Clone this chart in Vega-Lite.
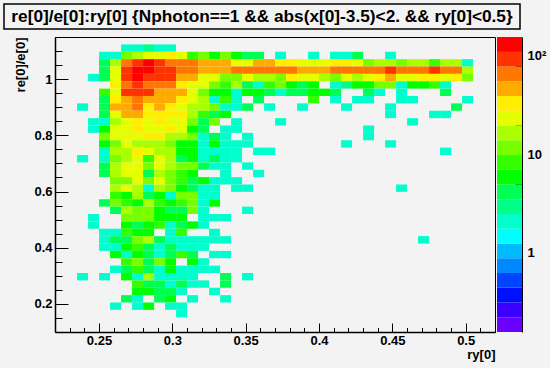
{"$schema":"https://vega.github.io/schema/vega-lite/v6.json","background":"#f3f3f3","padding":{"left":3,"top":3,"right":10,"bottom":12},"config":{"font":"Liberation Sans","view":{"stroke":"#000","strokeWidth":1}},"bounds":"flush","spacing":8,"vconcat":[
{"width":516,"height":25,"view":{"stroke":"#000","fill":"#f3f3f3","strokeWidth":1.5},"data":{"values":[{"t":"re[0]/e[0]:ry[0] {Nphoton==1 && abs(x[0]-3.5)<2. && ry[0]<0.5}"}]},"mark":{"type":"text","font":"Liberation Sans","fontWeight":"bold","fontSize":17.25,"color":"#000"},"encoding":{"text":{"field":"t","type":"nominal"}}},
{"bounds":"flush","spacing":2,"hconcat":[
{"width":48.5,"height":295,"view":{"stroke":null},"data":{"values":[]},"mark":"text","encoding":{}},
{"width":440,"height":295,"data":{"values":[
{"ry":0.2688,"re":1.1106,"n":2.1},{"ry":0.2763,"re":1.1106,"n":2.1},{"ry":0.2838,"re":1.1106,"n":2.9},{"ry":0.2913,"re":1.1106,"n":2.1},{"ry":0.2988,"re":1.1106,"n":2.1},
{"ry":0.2538,"re":1.0844,"n":2.1},{"ry":0.2613,"re":1.0844,"n":2.1},{"ry":0.2688,"re":1.0844,"n":12},{"ry":0.2763,"re":1.0844,"n":16.5},{"ry":0.2838,"re":1.0844,"n":23},{"ry":0.2913,"re":1.0844,"n":23},{"ry":0.2988,"re":1.0844,"n":33},{"ry":0.3063,"re":1.0844,"n":23},{"ry":0.3138,"re":1.0844,"n":8.3},{"ry":0.3213,"re":1.0844,"n":12},{"ry":0.3288,"re":1.0844,"n":5.9},{"ry":0.3363,"re":1.0844,"n":12},{"ry":0.3438,"re":1.0844,"n":5.9},{"ry":0.3513,"re":1.0844,"n":4.2},{"ry":0.3588,"re":1.0844,"n":4.2},{"ry":0.3738,"re":1.0844,"n":2.1},{"ry":0.3963,"re":1.0844,"n":2.1},{"ry":0.4113,"re":1.0844,"n":2.1},{"ry":0.4188,"re":1.0844,"n":2.1},{"ry":0.4263,"re":1.0844,"n":4.2},{"ry":0.4488,"re":1.0844,"n":2.1},
{"ry":0.2538,"re":1.0581,"n":4.2},{"ry":0.2613,"re":1.0581,"n":16.5},{"ry":0.2688,"re":1.0581,"n":66},{"ry":0.2763,"re":1.0581,"n":93},{"ry":0.2838,"re":1.0581,"n":131},{"ry":0.2913,"re":1.0581,"n":93},{"ry":0.2988,"re":1.0581,"n":66},{"ry":0.3063,"re":1.0581,"n":66},{"ry":0.3138,"re":1.0581,"n":66},{"ry":0.3213,"re":1.0581,"n":47},{"ry":0.3288,"re":1.0581,"n":47},{"ry":0.3363,"re":1.0581,"n":47},{"ry":0.3438,"re":1.0581,"n":23},{"ry":0.3513,"re":1.0581,"n":23},{"ry":0.3588,"re":1.0581,"n":47},{"ry":0.3663,"re":1.0581,"n":47},{"ry":0.3738,"re":1.0581,"n":33},{"ry":0.3813,"re":1.0581,"n":33},{"ry":0.3888,"re":1.0581,"n":23},{"ry":0.3963,"re":1.0581,"n":23},{"ry":0.4038,"re":1.0581,"n":23},{"ry":0.4113,"re":1.0581,"n":33},{"ry":0.4188,"re":1.0581,"n":33},{"ry":0.4263,"re":1.0581,"n":23},{"ry":0.4338,"re":1.0581,"n":12},{"ry":0.4413,"re":1.0581,"n":16.5},{"ry":0.4488,"re":1.0581,"n":16.5},{"ry":0.4563,"re":1.0581,"n":12},{"ry":0.4638,"re":1.0581,"n":16.5},{"ry":0.4713,"re":1.0581,"n":16.5},{"ry":0.4788,"re":1.0581,"n":8.3},{"ry":0.4863,"re":1.0581,"n":16.5},{"ry":0.4938,"re":1.0581,"n":16.5},{"ry":0.5013,"re":1.0581,"n":2.1},
{"ry":0.2538,"re":1.0319,"n":4.2},{"ry":0.2613,"re":1.0319,"n":23},{"ry":0.2688,"re":1.0319,"n":93},{"ry":0.2763,"re":1.0319,"n":131},{"ry":0.2838,"re":1.0319,"n":131},{"ry":0.2913,"re":1.0319,"n":93},{"ry":0.2988,"re":1.0319,"n":93},{"ry":0.3063,"re":1.0319,"n":66},{"ry":0.3138,"re":1.0319,"n":66},{"ry":0.3213,"re":1.0319,"n":47},{"ry":0.3288,"re":1.0319,"n":47},{"ry":0.3363,"re":1.0319,"n":47},{"ry":0.3438,"re":1.0319,"n":66},{"ry":0.3513,"re":1.0319,"n":66},{"ry":0.3588,"re":1.0319,"n":66},{"ry":0.3663,"re":1.0319,"n":66},{"ry":0.3738,"re":1.0319,"n":66},{"ry":0.3813,"re":1.0319,"n":66},{"ry":0.3888,"re":1.0319,"n":47},{"ry":0.3963,"re":1.0319,"n":47},{"ry":0.4038,"re":1.0319,"n":47},{"ry":0.4113,"re":1.0319,"n":66},{"ry":0.4188,"re":1.0319,"n":66},{"ry":0.4263,"re":1.0319,"n":66},{"ry":0.4338,"re":1.0319,"n":66},{"ry":0.4413,"re":1.0319,"n":66},{"ry":0.4488,"re":1.0319,"n":93},{"ry":0.4563,"re":1.0319,"n":66},{"ry":0.4638,"re":1.0319,"n":66},{"ry":0.4713,"re":1.0319,"n":66},{"ry":0.4788,"re":1.0319,"n":93},{"ry":0.4863,"re":1.0319,"n":66},{"ry":0.4938,"re":1.0319,"n":66},{"ry":0.5013,"re":1.0319,"n":16.5},
{"ry":0.2463,"re":1.0056,"n":2.1},{"ry":0.2538,"re":1.0056,"n":4.2},{"ry":0.2613,"re":1.0056,"n":23},{"ry":0.2688,"re":1.0056,"n":93},{"ry":0.2763,"re":1.0056,"n":131},{"ry":0.2838,"re":1.0056,"n":93},{"ry":0.2913,"re":1.0056,"n":93},{"ry":0.2988,"re":1.0056,"n":93},{"ry":0.3063,"re":1.0056,"n":47},{"ry":0.3138,"re":1.0056,"n":47},{"ry":0.3213,"re":1.0056,"n":23},{"ry":0.3288,"re":1.0056,"n":23},{"ry":0.3363,"re":1.0056,"n":12},{"ry":0.3438,"re":1.0056,"n":12},{"ry":0.3513,"re":1.0056,"n":23},{"ry":0.3588,"re":1.0056,"n":16.5},{"ry":0.3663,"re":1.0056,"n":16.5},{"ry":0.3738,"re":1.0056,"n":12},{"ry":0.3813,"re":1.0056,"n":33},{"ry":0.3888,"re":1.0056,"n":23},{"ry":0.3963,"re":1.0056,"n":23},{"ry":0.4038,"re":1.0056,"n":16.5},{"ry":0.4113,"re":1.0056,"n":12},{"ry":0.4188,"re":1.0056,"n":23},{"ry":0.4263,"re":1.0056,"n":16.5},{"ry":0.4338,"re":1.0056,"n":23},{"ry":0.4413,"re":1.0056,"n":33},{"ry":0.4488,"re":1.0056,"n":47},{"ry":0.4563,"re":1.0056,"n":23},{"ry":0.4638,"re":1.0056,"n":23},{"ry":0.4713,"re":1.0056,"n":33},{"ry":0.4788,"re":1.0056,"n":33},{"ry":0.4863,"re":1.0056,"n":23},{"ry":0.4938,"re":1.0056,"n":33},{"ry":0.5013,"re":1.0056,"n":12},
{"ry":0.2613,"re":0.9794,"n":33},{"ry":0.2688,"re":0.9794,"n":66},{"ry":0.2763,"re":0.9794,"n":93},{"ry":0.2838,"re":0.9794,"n":66},{"ry":0.2913,"re":0.9794,"n":66},{"ry":0.2988,"re":0.9794,"n":66},{"ry":0.3063,"re":0.9794,"n":33},{"ry":0.3138,"re":0.9794,"n":23},{"ry":0.3213,"re":0.9794,"n":23},{"ry":0.3288,"re":0.9794,"n":12},{"ry":0.3363,"re":0.9794,"n":8.3},{"ry":0.3438,"re":0.9794,"n":16.5},{"ry":0.3513,"re":0.9794,"n":4.2},{"ry":0.3588,"re":0.9794,"n":2.1},{"ry":0.3663,"re":0.9794,"n":8.3},{"ry":0.3738,"re":0.9794,"n":12},{"ry":0.3813,"re":0.9794,"n":5.9},{"ry":0.3888,"re":0.9794,"n":4.2},{"ry":0.3963,"re":0.9794,"n":5.9},{"ry":0.4113,"re":0.9794,"n":2.1},{"ry":0.4188,"re":0.9794,"n":2.9},{"ry":0.4263,"re":0.9794,"n":5.9},{"ry":0.4338,"re":0.9794,"n":5.9},{"ry":0.4413,"re":0.9794,"n":12},{"ry":0.4488,"re":0.9794,"n":12},{"ry":0.4563,"re":0.9794,"n":2.1},{"ry":0.4638,"re":0.9794,"n":5.9},{"ry":0.4713,"re":0.9794,"n":5.9},{"ry":0.4788,"re":0.9794,"n":8.3},{"ry":0.4863,"re":0.9794,"n":2.1},
{"ry":0.2538,"re":0.9531,"n":8.3},{"ry":0.2613,"re":0.9531,"n":23},{"ry":0.2688,"re":0.9531,"n":93},{"ry":0.2763,"re":0.9531,"n":93},{"ry":0.2838,"re":0.9531,"n":93},{"ry":0.2913,"re":0.9531,"n":47},{"ry":0.2988,"re":0.9531,"n":47},{"ry":0.3063,"re":0.9531,"n":47},{"ry":0.3138,"re":0.9531,"n":23},{"ry":0.3213,"re":0.9531,"n":12},{"ry":0.3288,"re":0.9531,"n":5.9},{"ry":0.3363,"re":0.9531,"n":5.9},{"ry":0.3438,"re":0.9531,"n":2.1},{"ry":0.3513,"re":0.9531,"n":5.9},{"ry":0.3588,"re":0.9531,"n":5.9},{"ry":0.3663,"re":0.9531,"n":4.2},{"ry":0.3738,"re":0.9531,"n":2.1},{"ry":0.3813,"re":0.9531,"n":4.2},{"ry":0.3888,"re":0.9531,"n":4.2},{"ry":0.3963,"re":0.9531,"n":5.9},{"ry":0.4038,"re":0.9531,"n":5.9},{"ry":0.4113,"re":0.9531,"n":4.2},{"ry":0.4338,"re":0.9531,"n":4.2},{"ry":0.4413,"re":0.9531,"n":2.1},{"ry":0.4563,"re":0.9531,"n":2.1},{"ry":0.4863,"re":0.9531,"n":4.2},
{"ry":0.2538,"re":0.9269,"n":4.2},{"ry":0.2613,"re":0.9269,"n":33},{"ry":0.2688,"re":0.9269,"n":47},{"ry":0.2763,"re":0.9269,"n":66},{"ry":0.2838,"re":0.9269,"n":47},{"ry":0.2913,"re":0.9269,"n":47},{"ry":0.2988,"re":0.9269,"n":47},{"ry":0.3063,"re":0.9269,"n":33},{"ry":0.3138,"re":0.9269,"n":23},{"ry":0.3213,"re":0.9269,"n":16.5},{"ry":0.3288,"re":0.9269,"n":2.1},{"ry":0.3363,"re":0.9269,"n":8.3},{"ry":0.3438,"re":0.9269,"n":2.1},{"ry":0.3588,"re":0.9269,"n":4.2},{"ry":0.3963,"re":0.9269,"n":8.3},{"ry":0.4113,"re":0.9269,"n":2.1},{"ry":0.4263,"re":0.9269,"n":2.1},{"ry":0.4338,"re":0.9269,"n":2.1},{"ry":0.4563,"re":0.9269,"n":2.1},{"ry":0.4638,"re":0.9269,"n":2.1},{"ry":0.5013,"re":0.9269,"n":2.1},
{"ry":0.2388,"re":0.9006,"n":2.1},{"ry":0.2538,"re":0.9006,"n":4.2},{"ry":0.2613,"re":0.9006,"n":47},{"ry":0.2688,"re":0.9006,"n":47},{"ry":0.2763,"re":0.9006,"n":66},{"ry":0.2838,"re":0.9006,"n":33},{"ry":0.2913,"re":0.9006,"n":47},{"ry":0.2988,"re":0.9006,"n":33},{"ry":0.3063,"re":0.9006,"n":23},{"ry":0.3138,"re":0.9006,"n":16.5},{"ry":0.3213,"re":0.9006,"n":16.5},{"ry":0.3288,"re":0.9006,"n":12},{"ry":0.3363,"re":0.9006,"n":2.1},{"ry":0.3438,"re":0.9006,"n":2.1},{"ry":0.3513,"re":0.9006,"n":4.2},{"ry":0.3663,"re":0.9006,"n":2.1},{"ry":0.3888,"re":0.9006,"n":2.1},{"ry":0.4188,"re":0.9006,"n":2.1},{"ry":0.4488,"re":0.9006,"n":2.1},{"ry":0.4938,"re":0.9006,"n":4.2},
{"ry":0.2538,"re":0.8744,"n":4.2},{"ry":0.2613,"re":0.8744,"n":23},{"ry":0.2688,"re":0.8744,"n":47},{"ry":0.2763,"re":0.8744,"n":47},{"ry":0.2838,"re":0.8744,"n":33},{"ry":0.2913,"re":0.8744,"n":33},{"ry":0.2988,"re":0.8744,"n":33},{"ry":0.3063,"re":0.8744,"n":33},{"ry":0.3138,"re":0.8744,"n":16.5},{"ry":0.3213,"re":0.8744,"n":8.3},{"ry":0.3288,"re":0.8744,"n":4.2},{"ry":0.3363,"re":0.8744,"n":5.9},{"ry":0.4488,"re":0.8744,"n":2.1},{"ry":0.4788,"re":0.8744,"n":2.1},{"ry":0.4863,"re":0.8744,"n":2.1},
{"ry":0.2463,"re":0.8481,"n":2.1},{"ry":0.2538,"re":0.8481,"n":2.1},{"ry":0.2613,"re":0.8481,"n":16.5},{"ry":0.2688,"re":0.8481,"n":23},{"ry":0.2763,"re":0.8481,"n":33},{"ry":0.2838,"re":0.8481,"n":23},{"ry":0.2913,"re":0.8481,"n":33},{"ry":0.2988,"re":0.8481,"n":23},{"ry":0.3063,"re":0.8481,"n":23},{"ry":0.3138,"re":0.8481,"n":12},{"ry":0.3213,"re":0.8481,"n":4.2},{"ry":0.3288,"re":0.8481,"n":12},{"ry":0.3438,"re":0.8481,"n":2.1},{"ry":0.3738,"re":0.8481,"n":2.1},{"ry":0.4638,"re":0.8481,"n":2.1},
{"ry":0.2463,"re":0.8219,"n":2.1},{"ry":0.2538,"re":0.8219,"n":5.9},{"ry":0.2613,"re":0.8219,"n":23},{"ry":0.2688,"re":0.8219,"n":23},{"ry":0.2763,"re":0.8219,"n":33},{"ry":0.2838,"re":0.8219,"n":23},{"ry":0.2913,"re":0.8219,"n":23},{"ry":0.2988,"re":0.8219,"n":33},{"ry":0.3063,"re":0.8219,"n":23},{"ry":0.3138,"re":0.8219,"n":5.9},{"ry":0.3213,"re":0.8219,"n":4.2},{"ry":0.3363,"re":0.8219,"n":2.1},{"ry":0.3438,"re":0.8219,"n":2.1},{"ry":0.4338,"re":0.8219,"n":2.1},
{"ry":0.2538,"re":0.7956,"n":12},{"ry":0.2613,"re":0.7956,"n":23},{"ry":0.2688,"re":0.7956,"n":23},{"ry":0.2763,"re":0.7956,"n":23},{"ry":0.2838,"re":0.7956,"n":33},{"ry":0.2913,"re":0.7956,"n":33},{"ry":0.2988,"re":0.7956,"n":16.5},{"ry":0.3063,"re":0.7956,"n":16.5},{"ry":0.3138,"re":0.7956,"n":12},{"ry":0.3213,"re":0.7956,"n":2.1},{"ry":0.3288,"re":0.7956,"n":4.2},{"ry":0.3363,"re":0.7956,"n":2.1},{"ry":0.3513,"re":0.7956,"n":2.1},{"ry":0.4338,"re":0.7956,"n":2.1},
{"ry":0.2538,"re":0.7694,"n":5.9},{"ry":0.2613,"re":0.7694,"n":12},{"ry":0.2688,"re":0.7694,"n":23},{"ry":0.2763,"re":0.7694,"n":16.5},{"ry":0.2838,"re":0.7694,"n":16.5},{"ry":0.2913,"re":0.7694,"n":16.5},{"ry":0.2988,"re":0.7694,"n":12},{"ry":0.3063,"re":0.7694,"n":5.9},{"ry":0.3138,"re":0.7694,"n":5.9},{"ry":0.3213,"re":0.7694,"n":2.1},{"ry":0.3288,"re":0.7694,"n":5.9},{"ry":0.3363,"re":0.7694,"n":2.1},{"ry":0.3438,"re":0.7694,"n":2.1},{"ry":0.3513,"re":0.7694,"n":2.1},{"ry":0.4188,"re":0.7694,"n":2.1},{"ry":0.4488,"re":0.7694,"n":2.1},
{"ry":0.2538,"re":0.7431,"n":2.1},{"ry":0.2613,"re":0.7431,"n":16.5},{"ry":0.2688,"re":0.7431,"n":16.5},{"ry":0.2763,"re":0.7431,"n":33},{"ry":0.2838,"re":0.7431,"n":23},{"ry":0.2913,"re":0.7431,"n":16.5},{"ry":0.2988,"re":0.7431,"n":16.5},{"ry":0.3063,"re":0.7431,"n":5.9},{"ry":0.3138,"re":0.7431,"n":5.9},{"ry":0.3213,"re":0.7431,"n":2.1},{"ry":0.3288,"re":0.7431,"n":2.1},{"ry":0.3363,"re":0.7431,"n":2.1},{"ry":0.3438,"re":0.7431,"n":2.1},{"ry":0.3588,"re":0.7431,"n":2.1},{"ry":0.3663,"re":0.7431,"n":2.1},{"ry":0.4863,"re":0.7431,"n":2.1},
{"ry":0.2388,"re":0.7169,"n":2.1},{"ry":0.2538,"re":0.7169,"n":2.1},{"ry":0.2613,"re":0.7169,"n":12},{"ry":0.2688,"re":0.7169,"n":16.5},{"ry":0.2763,"re":0.7169,"n":23},{"ry":0.2838,"re":0.7169,"n":8.3},{"ry":0.2913,"re":0.7169,"n":23},{"ry":0.2988,"re":0.7169,"n":16.5},{"ry":0.3063,"re":0.7169,"n":4.2},{"ry":0.3138,"re":0.7169,"n":5.9},{"ry":0.3213,"re":0.7169,"n":2.1},{"ry":0.3288,"re":0.7169,"n":4.2},{"ry":0.3363,"re":0.7169,"n":2.1},{"ry":0.3438,"re":0.7169,"n":2.1},
{"ry":0.2538,"re":0.6906,"n":4.2},{"ry":0.2613,"re":0.6906,"n":16.5},{"ry":0.2688,"re":0.6906,"n":23},{"ry":0.2763,"re":0.6906,"n":23},{"ry":0.2838,"re":0.6906,"n":12},{"ry":0.2913,"re":0.6906,"n":23},{"ry":0.2988,"re":0.6906,"n":16.5},{"ry":0.3063,"re":0.6906,"n":12},{"ry":0.3138,"re":0.6906,"n":12},{"ry":0.3213,"re":0.6906,"n":4.2},{"ry":0.3288,"re":0.6906,"n":2.1},{"ry":0.3363,"re":0.6906,"n":2.1},{"ry":0.3513,"re":0.6906,"n":2.1},
{"ry":0.2538,"re":0.6644,"n":4.2},{"ry":0.2613,"re":0.6644,"n":16.5},{"ry":0.2688,"re":0.6644,"n":23},{"ry":0.2763,"re":0.6644,"n":23},{"ry":0.2838,"re":0.6644,"n":4.2},{"ry":0.2913,"re":0.6644,"n":16.5},{"ry":0.2988,"re":0.6644,"n":12},{"ry":0.3063,"re":0.6644,"n":8.3},{"ry":0.3138,"re":0.6644,"n":5.9},{"ry":0.3363,"re":0.6644,"n":2.1},{"ry":0.3588,"re":0.6644,"n":2.1},
{"ry":0.2613,"re":0.6381,"n":12},{"ry":0.2688,"re":0.6381,"n":12},{"ry":0.2763,"re":0.6381,"n":23},{"ry":0.2838,"re":0.6381,"n":12},{"ry":0.2913,"re":0.6381,"n":23},{"ry":0.2988,"re":0.6381,"n":12},{"ry":0.3063,"re":0.6381,"n":8.3},{"ry":0.3138,"re":0.6381,"n":4.2},{"ry":0.3213,"re":0.6381,"n":5.9},{"ry":0.3288,"re":0.6381,"n":2.1},{"ry":0.3363,"re":0.6381,"n":2.1},{"ry":0.3438,"re":0.6381,"n":2.1},
{"ry":0.2613,"re":0.6119,"n":16.5},{"ry":0.2688,"re":0.6119,"n":23},{"ry":0.2763,"re":0.6119,"n":16.5},{"ry":0.2838,"re":0.6119,"n":2.1},{"ry":0.2913,"re":0.6119,"n":16.5},{"ry":0.2988,"re":0.6119,"n":12},{"ry":0.3063,"re":0.6119,"n":5.9},{"ry":0.3138,"re":0.6119,"n":4.2},{"ry":0.3213,"re":0.6119,"n":2.1},{"ry":0.3288,"re":0.6119,"n":2.1},{"ry":0.3438,"re":0.6119,"n":2.1},{"ry":0.3513,"re":0.6119,"n":2.1},{"ry":0.4563,"re":0.6119,"n":2.1},
{"ry":0.2613,"re":0.5856,"n":8.3},{"ry":0.2688,"re":0.5856,"n":5.9},{"ry":0.2763,"re":0.5856,"n":16.5},{"ry":0.2838,"re":0.5856,"n":4.2},{"ry":0.2913,"re":0.5856,"n":5.9},{"ry":0.2988,"re":0.5856,"n":2.1},{"ry":0.3063,"re":0.5856,"n":12},{"ry":0.3138,"re":0.5856,"n":12},{"ry":0.3213,"re":0.5856,"n":2.1},{"ry":0.3288,"re":0.5856,"n":2.1},
{"ry":0.2538,"re":0.5594,"n":4.2},{"ry":0.2613,"re":0.5594,"n":12},{"ry":0.2688,"re":0.5594,"n":8.3},{"ry":0.2763,"re":0.5594,"n":5.9},{"ry":0.2838,"re":0.5594,"n":16.5},{"ry":0.2913,"re":0.5594,"n":8.3},{"ry":0.2988,"re":0.5594,"n":5.9},{"ry":0.3063,"re":0.5594,"n":8.3},{"ry":0.3138,"re":0.5594,"n":12},{"ry":0.3213,"re":0.5594,"n":2.1},{"ry":0.3288,"re":0.5594,"n":5.9},
{"ry":0.2613,"re":0.5331,"n":4.2},{"ry":0.2688,"re":0.5331,"n":16.5},{"ry":0.2763,"re":0.5331,"n":12},{"ry":0.2838,"re":0.5331,"n":12},{"ry":0.2913,"re":0.5331,"n":5.9},{"ry":0.2988,"re":0.5331,"n":4.2},{"ry":0.3063,"re":0.5331,"n":4.2},{"ry":0.3138,"re":0.5331,"n":12},{"ry":0.3213,"re":0.5331,"n":2.1},{"ry":0.3513,"re":0.5331,"n":2.1},
{"ry":0.2463,"re":0.5069,"n":2.1},{"ry":0.2688,"re":0.5069,"n":12},{"ry":0.2763,"re":0.5069,"n":12},{"ry":0.2838,"re":0.5069,"n":12},{"ry":0.2913,"re":0.5069,"n":5.9},{"ry":0.2988,"re":0.5069,"n":5.9},{"ry":0.3063,"re":0.5069,"n":5.9},{"ry":0.3213,"re":0.5069,"n":2.1},{"ry":0.3288,"re":0.5069,"n":2.1},{"ry":0.3363,"re":0.5069,"n":2.1},
{"ry":0.2463,"re":0.4806,"n":2.1},{"ry":0.2688,"re":0.4806,"n":5.9},{"ry":0.2763,"re":0.4806,"n":4.2},{"ry":0.2838,"re":0.4806,"n":5.9},{"ry":0.2913,"re":0.4806,"n":8.3},{"ry":0.2988,"re":0.4806,"n":2.1},{"ry":0.3063,"re":0.4806,"n":4.2},{"ry":0.3138,"re":0.4806,"n":5.9},{"ry":0.3213,"re":0.4806,"n":2.1},
{"ry":0.2538,"re":0.4544,"n":2.1},{"ry":0.2613,"re":0.4544,"n":2.1},{"ry":0.2688,"re":0.4544,"n":8.3},{"ry":0.2763,"re":0.4544,"n":5.9},{"ry":0.2838,"re":0.4544,"n":5.9},{"ry":0.2988,"re":0.4544,"n":2.1},{"ry":0.3063,"re":0.4544,"n":8.3},{"ry":0.3288,"re":0.4544,"n":2.1},
{"ry":0.2538,"re":0.4281,"n":2.1},{"ry":0.2613,"re":0.4281,"n":4.2},{"ry":0.2688,"re":0.4281,"n":4.2},{"ry":0.2763,"re":0.4281,"n":12},{"ry":0.2838,"re":0.4281,"n":16.5},{"ry":0.2913,"re":0.4281,"n":4.2},{"ry":0.2988,"re":0.4281,"n":2.1},{"ry":0.3063,"re":0.4281,"n":2.1},{"ry":0.3138,"re":0.4281,"n":2.1},{"ry":0.3213,"re":0.4281,"n":2.1},{"ry":0.3288,"re":0.4281,"n":2.1},{"ry":0.3363,"re":0.4281,"n":2.1},{"ry":0.4713,"re":0.4281,"n":2.1},
{"ry":0.2538,"re":0.4019,"n":2.1},{"ry":0.2613,"re":0.4019,"n":2.1},{"ry":0.2688,"re":0.4019,"n":5.9},{"ry":0.2763,"re":0.4019,"n":8.3},{"ry":0.2838,"re":0.4019,"n":4.2},{"ry":0.2913,"re":0.4019,"n":2.1},{"ry":0.2988,"re":0.4019,"n":4.2},{"ry":0.3063,"re":0.4019,"n":2.1},{"ry":0.3138,"re":0.4019,"n":2.1},{"ry":0.3213,"re":0.4019,"n":2.1},
{"ry":0.2613,"re":0.3756,"n":5.9},{"ry":0.2688,"re":0.3756,"n":2.1},{"ry":0.2763,"re":0.3756,"n":5.9},{"ry":0.2838,"re":0.3756,"n":4.2},{"ry":0.2913,"re":0.3756,"n":2.1},{"ry":0.2988,"re":0.3756,"n":4.2},{"ry":0.3063,"re":0.3756,"n":8.3},{"ry":0.3138,"re":0.3756,"n":4.2},{"ry":0.3288,"re":0.3756,"n":2.1},{"ry":0.3363,"re":0.3756,"n":2.1},
{"ry":0.2688,"re":0.3494,"n":8.3},{"ry":0.2763,"re":0.3494,"n":12},{"ry":0.2838,"re":0.3494,"n":4.2},{"ry":0.2913,"re":0.3494,"n":12},{"ry":0.2988,"re":0.3494,"n":5.9},{"ry":0.3138,"re":0.3494,"n":5.9},{"ry":0.3213,"re":0.3494,"n":2.1},
{"ry":0.2613,"re":0.3231,"n":2.1},{"ry":0.2688,"re":0.3231,"n":4.2},{"ry":0.2763,"re":0.3231,"n":8.3},{"ry":0.2838,"re":0.3231,"n":4.2},{"ry":0.2913,"re":0.3231,"n":2.1},{"ry":0.2988,"re":0.3231,"n":5.9},{"ry":0.3063,"re":0.3231,"n":2.1},{"ry":0.3138,"re":0.3231,"n":2.1},{"ry":0.3213,"re":0.3231,"n":2.1},{"ry":0.3288,"re":0.3231,"n":2.1},
{"ry":0.2388,"re":0.2969,"n":2.1},{"ry":0.2538,"re":0.2969,"n":2.1},{"ry":0.2688,"re":0.2969,"n":5.9},{"ry":0.2763,"re":0.2969,"n":2.1},{"ry":0.2838,"re":0.2969,"n":16.5},{"ry":0.2913,"re":0.2969,"n":2.1},{"ry":0.2988,"re":0.2969,"n":2.1},{"ry":0.3063,"re":0.2969,"n":2.1},{"ry":0.3138,"re":0.2969,"n":2.1},{"ry":0.3363,"re":0.2969,"n":4.2},{"ry":0.3513,"re":0.2969,"n":2.1},
{"ry":0.2763,"re":0.2706,"n":8.3},{"ry":0.2838,"re":0.2706,"n":4.2},{"ry":0.2913,"re":0.2706,"n":4.2},{"ry":0.2988,"re":0.2706,"n":2.1},{"ry":0.3063,"re":0.2706,"n":4.2},{"ry":0.3138,"re":0.2706,"n":2.1},{"ry":0.3213,"re":0.2706,"n":2.1},{"ry":0.3363,"re":0.2706,"n":4.2},
{"ry":0.2763,"re":0.2444,"n":5.9},{"ry":0.2838,"re":0.2444,"n":5.9},{"ry":0.2913,"re":0.2444,"n":4.2},{"ry":0.2988,"re":0.2444,"n":4.2},{"ry":0.3063,"re":0.2444,"n":2.1},{"ry":0.3288,"re":0.2444,"n":2.1},
{"ry":0.2688,"re":0.2181,"n":4.2},{"ry":0.2763,"re":0.2181,"n":2.1},{"ry":0.2913,"re":0.2181,"n":4.2},{"ry":0.2988,"re":0.2181,"n":5.9},{"ry":0.3138,"re":0.2181,"n":2.1},{"ry":0.3363,"re":0.2181,"n":2.1},
{"ry":0.2613,"re":0.1919,"n":2.1},{"ry":0.2763,"re":0.1919,"n":2.1},{"ry":0.2838,"re":0.1919,"n":5.9},{"ry":0.2988,"re":0.1919,"n":2.1},{"ry":0.3063,"re":0.1919,"n":2.1},
{"ry":0.3063,"re":0.1656,"n":2.1}
]},
"mark":{"type":"rect","width":11,"height":7.375},
"encoding":{
"x":{"field":"ry","type":"quantitative","scale":{"domain":[0.22,0.52],"nice":false,"zero":false},
"axis":{"title":"ry[0]","titleAnchor":"end","titleFont":"Liberation Sans","titleFontWeight":"bold","titleFontSize":13,"titleColor":"#000","titlePadding":-3,"grid":false,"domainColor":"#000","domainWidth":1.5,"tickColor":"#000","tickSize":{"condition":{"test":"abs(datum.value*20-round(datum.value*20))<0.001","value":-9},"value":-4.5},"values":[0.22,0.23,0.24,0.25,0.26,0.27,0.28,0.29,0.3,0.31,0.32,0.33,0.34,0.35,0.36,0.37,0.38,0.39,0.4,0.41,0.42,0.43,0.44,0.45,0.46,0.47,0.48,0.49,0.5,0.51,0.52],"labelExpr":"abs(datum.value*20-round(datum.value*20))<0.001?datum.label:''","format":"~g","labelFont":"Liberation Sans","labelFontWeight":"bold","labelFontSize":13,"labelColor":"#000","labelPadding":11,"labelOverlap":false,"labelFlush":false}},
"y":{"field":"re","type":"quantitative","scale":{"domain":[0.1,1.15],"nice":false,"zero":false},
"axis":{"title":"re[0]/e[0]","titleAnchor":"end","titleFont":"Liberation Sans","titleFontWeight":"bold","titleFontSize":13,"titleColor":"#000","titlePadding":6,"grid":false,"domainColor":"#000","domainWidth":1.5,"tickColor":"#000","tickSize":{"condition":{"test":"abs(datum.value*5-round(datum.value*5))<0.001","value":-13},"value":-7},"values":[0.1,0.15,0.2,0.25,0.3,0.35,0.4,0.45,0.5,0.55,0.6,0.65,0.7,0.75,0.8,0.85,0.9,0.95,1,1.05,1.1,1.15],"labelExpr":"abs(datum.value*5-round(datum.value*5))<0.001?datum.label:''","format":"~g","labelFont":"Liberation Sans","labelFontWeight":"bold","labelFontSize":13,"labelColor":"#000","labelPadding":16,"labelOverlap":false,"labelFlush":false}},
"color":{"field":"n","type":"quantitative","legend":null,"scale":{"type":"threshold","domain":[0.22,0.311,0.44,0.621,0.877,1.24,1.75,2.47,3.49,4.93,6.97,9.84,13.9,19.6,27.7,39.2,55.3,78.2,110],"range":["#6a00ff","#3a00ff","#0010ff","#0044ff","#0088ff","#00bbff","#00ffff","#00ffcc","#00ff88","#00ff55","#00ff00","#33ff00","#77ff00","#aaff00","#e5ff00","#ffee00","#ffaa00","#ff7700","#ff3300","#ff0000"]}}
}},
{"width":25,"height":295,"view":{"stroke":null},"data":{"values":[
{"lo":0.156,"hi":0.22},{"lo":0.22,"hi":0.311},{"lo":0.311,"hi":0.44},{"lo":0.44,"hi":0.621},{"lo":0.621,"hi":0.877},{"lo":0.877,"hi":1.24},{"lo":1.24,"hi":1.75},{"lo":1.75,"hi":2.47},{"lo":2.47,"hi":3.49},{"lo":3.49,"hi":4.93},{"lo":4.93,"hi":6.97},{"lo":6.97,"hi":9.84},{"lo":9.84,"hi":13.9},{"lo":13.9,"hi":19.6},{"lo":19.6,"hi":27.7},{"lo":27.7,"hi":39.2},{"lo":39.2,"hi":55.3},{"lo":55.3,"hi":78.2},{"lo":78.2,"hi":110},{"lo":110,"hi":156}
]},"mark":"rect","encoding":{
"y":{"field":"lo","type":"quantitative","scale":{"type":"log","domain":[0.156,156],"nice":false},
"axis":{"title":null,"orient":"right","grid":false,"domain":true,"domainColor":"#000","domainWidth":1,"tickColor":"#000","tickSize":{"condition":{"test":"datum.value==1||datum.value==10||datum.value==100","value":-13},"value":-7},"values":[0.2,0.3,0.4,0.5,0.6,0.7,0.8,0.9,1,2,3,4,5,6,7,8,9,10,20,30,40,50,60,70,80,90,100],"labelExpr":"datum.value==1?'1':datum.value==10?'10':datum.value==100?'10²':''","labelFont":"Liberation Sans","labelFontWeight":"bold","labelFontSize":13,"labelColor":"#000","labelPadding":18,"labelOverlap":false,"labelFlush":false}},
"y2":{"field":"hi"},
"color":{"field":"lo","type":"quantitative","legend":null,"scale":{"type":"threshold","domain":[0.22,0.311,0.44,0.621,0.877,1.24,1.75,2.47,3.49,4.93,6.97,9.84,13.9,19.6,27.7,39.2,55.3,78.2,110],"range":["#6a00ff","#3a00ff","#0010ff","#0044ff","#0088ff","#00bbff","#00ffff","#00ffcc","#00ff88","#00ff55","#00ff00","#33ff00","#77ff00","#aaff00","#e5ff00","#ffee00","#ffaa00","#ff7700","#ff3300","#ff0000"]}}
}}
]}
]}
